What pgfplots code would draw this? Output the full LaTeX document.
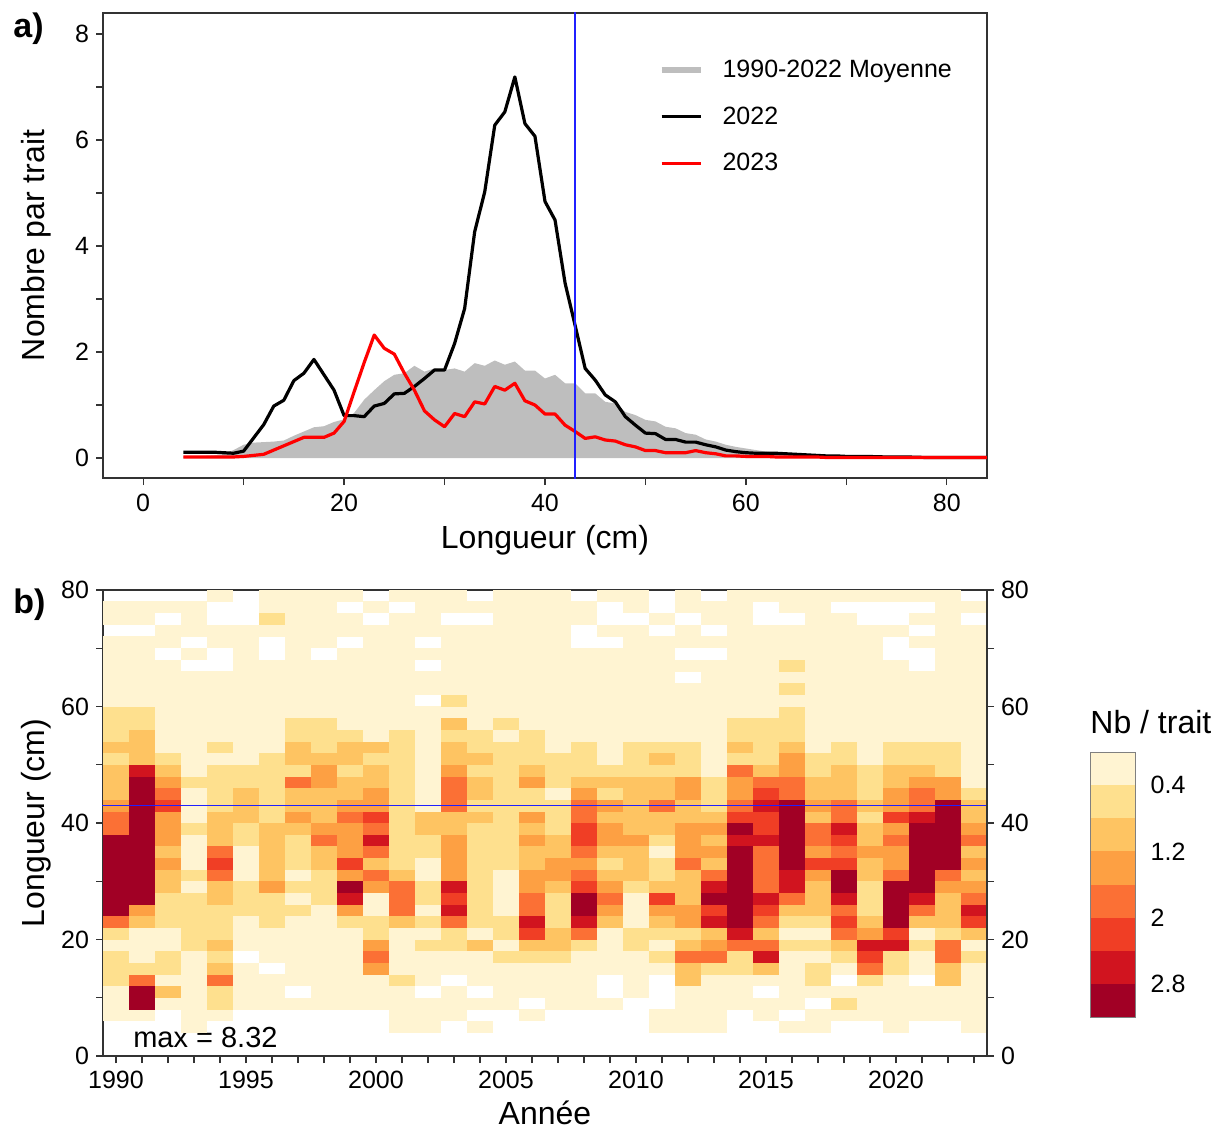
\documentclass[border=0pt]{standalone}
\usepackage{pgfplots}
\pgfplotsset{compat=1.18}
\usepackage{pgfplotstable}
\usepackage{fontspec}
\setmainfont{Liberation Sans}

\definecolor{c1}{HTML}{FFF4D2}
\definecolor{c2}{HTML}{FEE08E}
\definecolor{c3}{HTML}{FEC462}
\definecolor{c4}{HTML}{FDA043}
\definecolor{c5}{HTML}{FB7035}
\definecolor{c6}{HTML}{F03E25}
\definecolor{c7}{HTML}{D1141F}
\definecolor{c8}{HTML}{A10025}
\definecolor{c9}{HTML}{2020FF}
\definecolor{axc}{HTML}{333333}
\definecolor{meang}{HTML}{BEBEBE}
\definecolor{vline}{HTML}{2020FF}

\newcommand{\tickfont}{\fontsize{12.5}{15}\selectfont}
\newcommand{\labfont}{\fontsize{16}{19}\selectfont}

\pgfdeclareplotmark{cell}{%
  \pgfpathrectangle{\pgfpoint{-6.65pt}{-3.0pt}}{\pgfpoint{13.3pt}{6.0pt}}%
  \pgfusepathqfill}
\pgfdeclareplotmark{hline}{%
  \pgfpathrectangle{\pgfpoint{-6.75pt}{-0.33pt}}{\pgfpoint{13.5pt}{0.66pt}}%
  \pgfusepathqfill}

\pgfplotstableread{
x mean y2022 y2023
4 0.03 0.11 0.02
5 0.03 0.11 0.02
6 0.04 0.11 0.02
7 0.05 0.11 0.02
8 0.07 0.10 0.02
9 0.15 0.09 0.02
10 0.25 0.13 0.03
11 0.29 0.38 0.05
12 0.30 0.63 0.07
13 0.31 0.98 0.15
14 0.33 1.09 0.23
15 0.42 1.46 0.31
16 0.50 1.60 0.39
17 0.58 1.86 0.39
18 0.60 1.57 0.39
19 0.68 1.28 0.47
20 0.73 0.80 0.69
21 0.85 0.80 1.25
22 1.10 0.78 1.80
23 1.28 0.98 2.32
24 1.45 1.03 2.07
25 1.57 1.21 1.96
26 1.60 1.22 1.60
27 1.74 1.35 1.28
28 1.63 1.50 0.89
29 1.69 1.66 0.72
30 1.66 1.66 0.59
31 1.69 2.16 0.84
32 1.63 2.82 0.78
33 1.79 4.27 1.06
34 1.74 5.02 1.02
35 1.84 6.28 1.35
36 1.76 6.53 1.28
37 1.82 7.19 1.41
38 1.65 6.31 1.08
39 1.65 6.07 1.00
40 1.50 4.84 0.83
41 1.57 4.49 0.83
42 1.41 3.30 0.62
43 1.41 2.50 0.50
44 1.22 1.69 0.37
45 1.22 1.47 0.40
46 1.06 1.19 0.34
47 1.03 1.06 0.32
48 0.87 0.78 0.25
49 0.81 0.62 0.21
50 0.72 0.47 0.14
51 0.69 0.46 0.14
52 0.59 0.35 0.10
53 0.56 0.35 0.10
54 0.47 0.30 0.10
55 0.44 0.30 0.14
56 0.35 0.25 0.10
57 0.31 0.21 0.08
58 0.25 0.15 0.04
59 0.21 0.12 0.04
60 0.18 0.10 0.03
61 0.15 0.09 0.03
62 0.12 0.09 0.03
63 0.10 0.09 0.02
64 0.09 0.08 0.02
65 0.08 0.07 0.02
66 0.07 0.06 0.02
67 0.06 0.05 0.02
68 0.05 0.04 0.01
69 0.04 0.04 0.01
70 0.035 0.03 0.01
72 0.03 0.03 0.01
74 0.025 0.02 0.01
76 0.02 0.02 0.01
78 0.015 0.01 0.01
80 0.01 0.01 0.01
82 0.01 0.01 0.01
84 0.01 0.01 0.01
86 0.01 0.01 0.01
}\lengthdata

\pgfplotstableread{
yr b79 b77 b75 b73 b71 b69 b67 b65 b63 b61 b59 b57 b55 b53 b51 b49 b47 b45 b43 b41 b39 b37 b35 b33 b31 b29 b27 b25 b23 b21 b19 b17 b15 b13 b11 b9 b7 b5 b3 b1
1990 0 1 1 0 1 1 1 1 1 1 2 2 2 3 2 3 3 3 4 5 5 8 8 8 8 8 8 8 5 2 1 2 2 2 1 1 1 0 0 0
1991 0 1 1 0 1 1 1 1 1 1 2 2 3 3 3 7 8 8 8 8 8 8 8 8 8 8 8 4 3 1 1 1 2 5 8 8 1 0 0 0
1992 0 1 0 1 1 0 1 1 1 1 1 1 1 1 2 3 4 5 6 4 4 4 3 4 3 3 2 2 2 1 1 2 2 1 3 1 0 0 0 0
1993 0 1 1 1 0 1 0 1 1 1 1 1 1 1 1 1 2 1 1 1 2 1 1 1 2 1 2 2 2 2 2 1 1 1 1 1 1 1 0 0
1994 1 0 0 1 1 0 0 1 1 1 1 1 1 2 1 2 2 2 2 3 3 3 5 6 5 3 3 2 2 2 3 2 3 5 2 2 1 0 0 0
1995 0 0 0 1 1 1 1 1 1 1 1 1 1 1 1 2 2 3 3 3 2 2 1 1 1 2 2 2 1 1 1 0 1 1 1 1 0 0 0 0
1996 1 1 2 1 0 0 1 1 1 1 1 1 1 1 2 2 2 2 2 2 3 3 3 3 3 4 2 2 2 1 1 1 0 1 1 1 0 0 0 0
1997 1 1 1 1 1 1 1 1 1 1 1 2 2 3 3 2 5 3 3 4 3 2 2 2 1 2 1 2 1 1 1 1 1 1 0 1 0 0 0 0
1998 1 1 1 1 1 0 1 1 1 1 1 2 2 2 3 4 4 3 3 3 4 5 3 3 2 2 2 1 1 1 1 1 1 1 1 1 0 0 0 0
1999 1 0 1 1 0 1 1 1 1 1 1 1 2 3 3 2 3 3 4 5 4 4 4 6 4 8 7 4 2 1 1 1 1 1 1 1 0 0 0 0
2000 0 1 0 1 1 1 1 1 1 1 1 1 1 3 2 3 3 4 4 6 5 7 5 3 5 4 1 1 2 2 4 5 4 1 1 1 0 0 0 0
2001 1 0 1 1 1 1 1 1 1 1 1 1 2 2 2 2 2 2 2 2 2 2 2 2 3 5 5 5 3 1 1 1 1 2 1 1 1 1 0 0
2002 1 1 1 1 0 1 0 1 1 0 1 1 1 1 1 1 1 1 1 3 3 2 2 1 1 2 2 1 2 1 2 1 1 1 0 1 1 1 0 0
2003 1 1 0 1 1 1 1 1 1 2 1 3 2 3 3 4 5 5 5 3 3 4 4 4 4 7 6 7 5 2 2 1 1 0 1 1 1 0 0 0
2004 0 1 0 1 1 1 1 1 1 1 1 1 2 2 3 2 3 3 2 3 2 2 2 2 2 2 2 2 2 1 3 1 1 1 0 1 0 1 0 0
2005 1 1 1 1 1 1 1 1 1 1 1 2 1 2 2 2 2 2 2 2 2 2 2 2 1 1 1 1 2 2 1 2 1 1 1 1 0 0 0 0
2006 1 1 1 1 1 1 1 1 1 1 1 1 2 2 2 3 4 2 2 4 3 4 3 3 4 4 5 5 7 6 3 2 1 1 1 0 1 0 0 0
2007 1 1 1 1 1 1 1 1 1 1 1 1 1 1 2 2 2 1 2 2 2 3 3 4 4 3 2 2 2 3 3 2 1 1 1 1 0 0 0 0
2008 0 1 1 0 0 1 1 1 1 1 1 1 1 2 2 2 3 4 5 5 6 6 5 4 5 6 8 8 7 5 2 1 1 1 1 1 0 0 0 0
2009 1 0 0 1 0 1 1 1 1 1 1 1 1 1 1 2 3 2 4 3 4 4 3 2 3 4 5 4 3 1 1 1 1 0 0 1 0 0 0 0
2010 1 1 0 1 1 1 1 1 1 1 1 1 1 2 2 2 3 3 3 3 3 4 3 3 3 2 1 1 1 2 2 1 1 1 1 0 0 0 0 0
2011 0 0 1 0 1 1 1 1 1 1 1 1 1 2 3 2 3 3 5 3 3 2 1 2 2 3 6 4 3 2 1 2 1 0 0 0 1 1 0 0
2012 1 1 0 1 1 0 1 0 1 1 1 1 1 2 2 2 4 4 3 3 4 4 4 5 3 3 3 4 4 2 3 5 3 3 1 1 1 1 0 0
2013 0 1 1 0 1 0 1 1 1 1 1 1 1 1 1 1 2 2 2 3 4 3 4 3 5 7 8 6 7 3 4 5 2 1 1 1 1 1 0 0
2014 1 1 1 1 1 1 1 1 1 1 1 2 2 3 2 5 4 4 5 6 8 7 8 8 8 8 8 8 8 7 5 2 2 1 1 1 0 0 0 0
2015 1 0 0 1 1 1 1 1 1 1 1 2 2 2 2 3 5 6 7 6 6 7 5 5 5 5 7 6 5 3 5 7 3 1 0 1 1 0 0 0
2016 1 1 0 1 1 1 2 1 2 1 2 2 2 3 4 4 5 5 8 8 8 8 8 8 7 7 5 3 2 1 2 1 1 1 1 1 0 1 0 0
2017 1 1 1 1 1 1 1 1 1 1 1 1 1 1 2 2 3 3 4 3 5 5 4 6 4 3 3 3 2 1 2 1 2 2 1 0 1 1 0 0
2018 1 0 1 1 1 1 1 1 1 1 1 1 1 2 2 3 3 3 5 5 7 6 5 6 8 8 7 5 6 5 3 2 1 0 1 2 1 0 0 0
2019 1 0 0 1 1 1 1 1 1 1 1 1 1 1 1 2 2 2 3 2 3 3 4 3 3 2 2 2 3 4 7 6 5 2 1 1 1 0 0 0
2020 1 0 0 1 0 0 1 1 1 1 1 1 1 2 2 3 3 4 4 6 4 5 4 4 5 8 8 8 8 6 7 2 2 1 1 1 1 1 0 0
2021 1 0 1 0 1 0 0 1 1 1 1 1 1 2 2 3 4 5 5 7 8 8 8 8 8 8 7 5 3 1 2 1 1 0 1 1 1 0 0 0
2022 1 1 1 1 1 1 1 1 1 1 1 1 1 2 2 2 4 4 8 8 8 8 8 8 5 4 3 3 3 2 5 5 3 3 1 1 1 0 0 0
2023 0 1 0 1 1 1 1 1 1 1 1 1 1 1 1 1 1 2 3 3 4 5 3 4 3 4 5 7 6 3 1 2 1 1 1 1 1 1 0 0
}\heatdata

\pgfplotsset{
  common/.style={
    scale only axis, width=442pt,
    axis line style={axc, line width=0.6pt},
    every tick/.style={axc, line width=0.6pt},
    tick align=outside,
    major tick length=3.5pt, minor tick length=3.5pt,
    ticklabel style={font=\tickfont, text=black},
    /pgf/number format/assume math mode=true,
    label style={font=\labfont},
  },
  heat/.style={scatter, only marks, scatter src=explicit symbolic,
    scatter/classes={
      0={mark=none},
      1={mark=cell, c1},
      2={mark=cell, c2},
      3={mark=cell, c3},
      4={mark=cell, c4},
      5={mark=cell, c5},
      6={mark=cell, c6},
      7={mark=cell, c7},
      8={mark=cell, c8},
      9={mark=hline, c9}}},
}

\begin{document}
\begin{tikzpicture}
\useasboundingbox (0,0) rectangle (607pt,-564.5pt);

% ---------- panel a ----------
\begin{axis}[common, at={(51.5pt,-6.5pt)}, anchor=north west, height=232.5pt,
  xmin=-4, xmax=84, ymin=-0.377, ymax=8.396,
  xtick={0,20,...,80}, minor xtick={10,30,50,70},
  ytick={0,2,...,8}, minor ytick={1,3,5,7},
  xtick pos=bottom, ytick pos=left,
  xticklabel style={yshift=-1pt},
  xlabel={Longueur (cm)}, ylabel={Nombre par trait},
  xlabel style={at={(axis description cs:0.5,-0.1333)}, anchor=center},
  ylabel style={at={(axis description cs:-0.0758,0.5)}, anchor=center},
  legend style={at={(0.628,0.908)}, anchor=north west, draw=none, fill=none,
    font=\tickfont, row sep=9pt, inner sep=0pt,
    /tikz/every odd column/.append style={column sep=7.5pt}},
  legend cell align=left,
]
\addplot[fill=meang, draw=none,
  legend image code/.code={\draw[meang, line width=3pt] (0pt,0pt) -- (19.5pt,0pt);}]
  table[x=x, y=mean]{\lengthdata} \closedcycle;
\addlegendentry{1990-2022 Moyenne}
\addplot[black, line width=1.6pt, line join=round,
  legend image code/.code={\draw[black, line width=1.6pt] (0pt,0pt) -- (19.5pt,0pt);}]
  table[x=x, y=y2022]{\lengthdata};
\addlegendentry{2022}
\addplot[red, line width=1.6pt, line join=round,
  legend image code/.code={\draw[red, line width=1.6pt] (0pt,0pt) -- (19.5pt,0pt);}]
  table[x=x, y=y2023]{\lengthdata};
\addlegendentry{2023}
\addplot[draw=vline, line width=0.7pt, forget plot] coordinates {(43,-1) (43,9)};
\end{axis}

% ---------- panel b ----------
\begin{axis}[common, at={(51.5pt,-295pt)}, anchor=north west, height=233pt,
  xmin=1989.5, xmax=2023.5, ymin=0, ymax=80,
  xtick={1990,1995,...,2020}, minor xtick={1990,...,2023},
  ytick={0,20,...,80}, minor ytick={10,30,50,70},
  xtick pos=bottom, ytick pos=left,
  xticklabel style={/pgf/number format/1000 sep=, yshift=-0.5pt},
  xlabel={Année}, ylabel={Longueur (cm)},
  xlabel style={at={(axis description cs:0.5,-0.121)}, anchor=center},
  ylabel style={at={(axis description cs:-0.0758,0.5)}, anchor=center},
  axis on top,
]
\pgfplotsinvokeforeach{1,3,5,7,9,11,13,15,17,19,21,23,25,27,29,31,33,35,37,39,41,43,45,47,49,51,53,55,57,59,61,63,65,67,69,71,73,75,77,79}{
  \addplot[heat] table[x=yr, y expr=#1, meta=b#1]{\heatdata};
}
% reference length 43 cm, one segment per year column
\addplot[heat] coordinates {
  (1990,43) [9] (1991,43) [9] (1992,43) [9] (1993,43) [9] (1994,43) [9]
  (1995,43) [9] (1996,43) [9] (1997,43) [9] (1998,43) [9] (1999,43) [9]
  (2000,43) [9] (2001,43) [9] (2002,43) [9] (2003,43) [9] (2004,43) [9]
  (2005,43) [9] (2006,43) [9] (2007,43) [9] (2008,43) [9] (2009,43) [9]
  (2010,43) [9] (2011,43) [9] (2012,43) [9] (2013,43) [9] (2014,43) [9]
  (2015,43) [9] (2016,43) [9] (2017,43) [9] (2018,43) [9] (2019,43) [9]
  (2020,43) [9] (2021,43) [9] (2022,43) [9] (2023,43) [9]};
\node[anchor=west, font=\fontsize{14.5}{17}\selectfont, inner sep=0pt] at (axis cs:1990.65,3.1) {max = 8.32};
\end{axis}

% right-hand axis of panel b
\begin{axis}[common, at={(51.5pt,-295pt)}, anchor=north west, height=233pt,
  xmin=1989.5, xmax=2023.5, ymin=0, ymax=80,
  hide x axis, axis y line*=right,
  ytick={0,20,...,80}, minor ytick={10,30,50,70},
]
\addplot[draw=none, forget plot] coordinates {(2000,10)};
\end{axis}

% ---------- colour legend ----------
\begin{axis}[at={(545pt,-376pt)}, anchor=north west, scale only axis,
  width=22.8pt, height=132.5pt,
  xmin=0, xmax=1, ymin=0, ymax=3.2, y dir=reverse,
  xtick=\empty, ytick={0.4,1.2,2,2.8}, yticklabel pos=right,
  major tick length=0pt,
  ticklabel style={font=\tickfont, text=black},
  /pgf/number format/assume math mode=true,
  yticklabel style={xshift=4pt},
  axis line style={gray, line width=0.5pt},
  ybar stacked, bar width=22.8pt, axis on top,
]
\addplot[fill=c1, draw=none] coordinates {(0.5,0.4)};
\addplot[fill=c2, draw=none] coordinates {(0.5,0.4)};
\addplot[fill=c3, draw=none] coordinates {(0.5,0.4)};
\addplot[fill=c4, draw=none] coordinates {(0.5,0.4)};
\addplot[fill=c5, draw=none] coordinates {(0.5,0.4)};
\addplot[fill=c6, draw=none] coordinates {(0.5,0.4)};
\addplot[fill=c7, draw=none] coordinates {(0.5,0.4)};
\addplot[fill=c8, draw=none] coordinates {(0.5,0.4)};
\end{axis}

\node[anchor=west, inner sep=0pt, font=\labfont] at (545pt,-361pt) {Nb / trait};
\node[anchor=west, inner sep=0pt, font=\fontsize{17}{20}\selectfont\bfseries] at (6.5pt,-14.5pt) {a)};
\node[anchor=west, inner sep=0pt, font=\fontsize{17}{20}\selectfont\bfseries] at (6.5pt,-302.5pt) {b)};
\end{tikzpicture}
\end{document}
